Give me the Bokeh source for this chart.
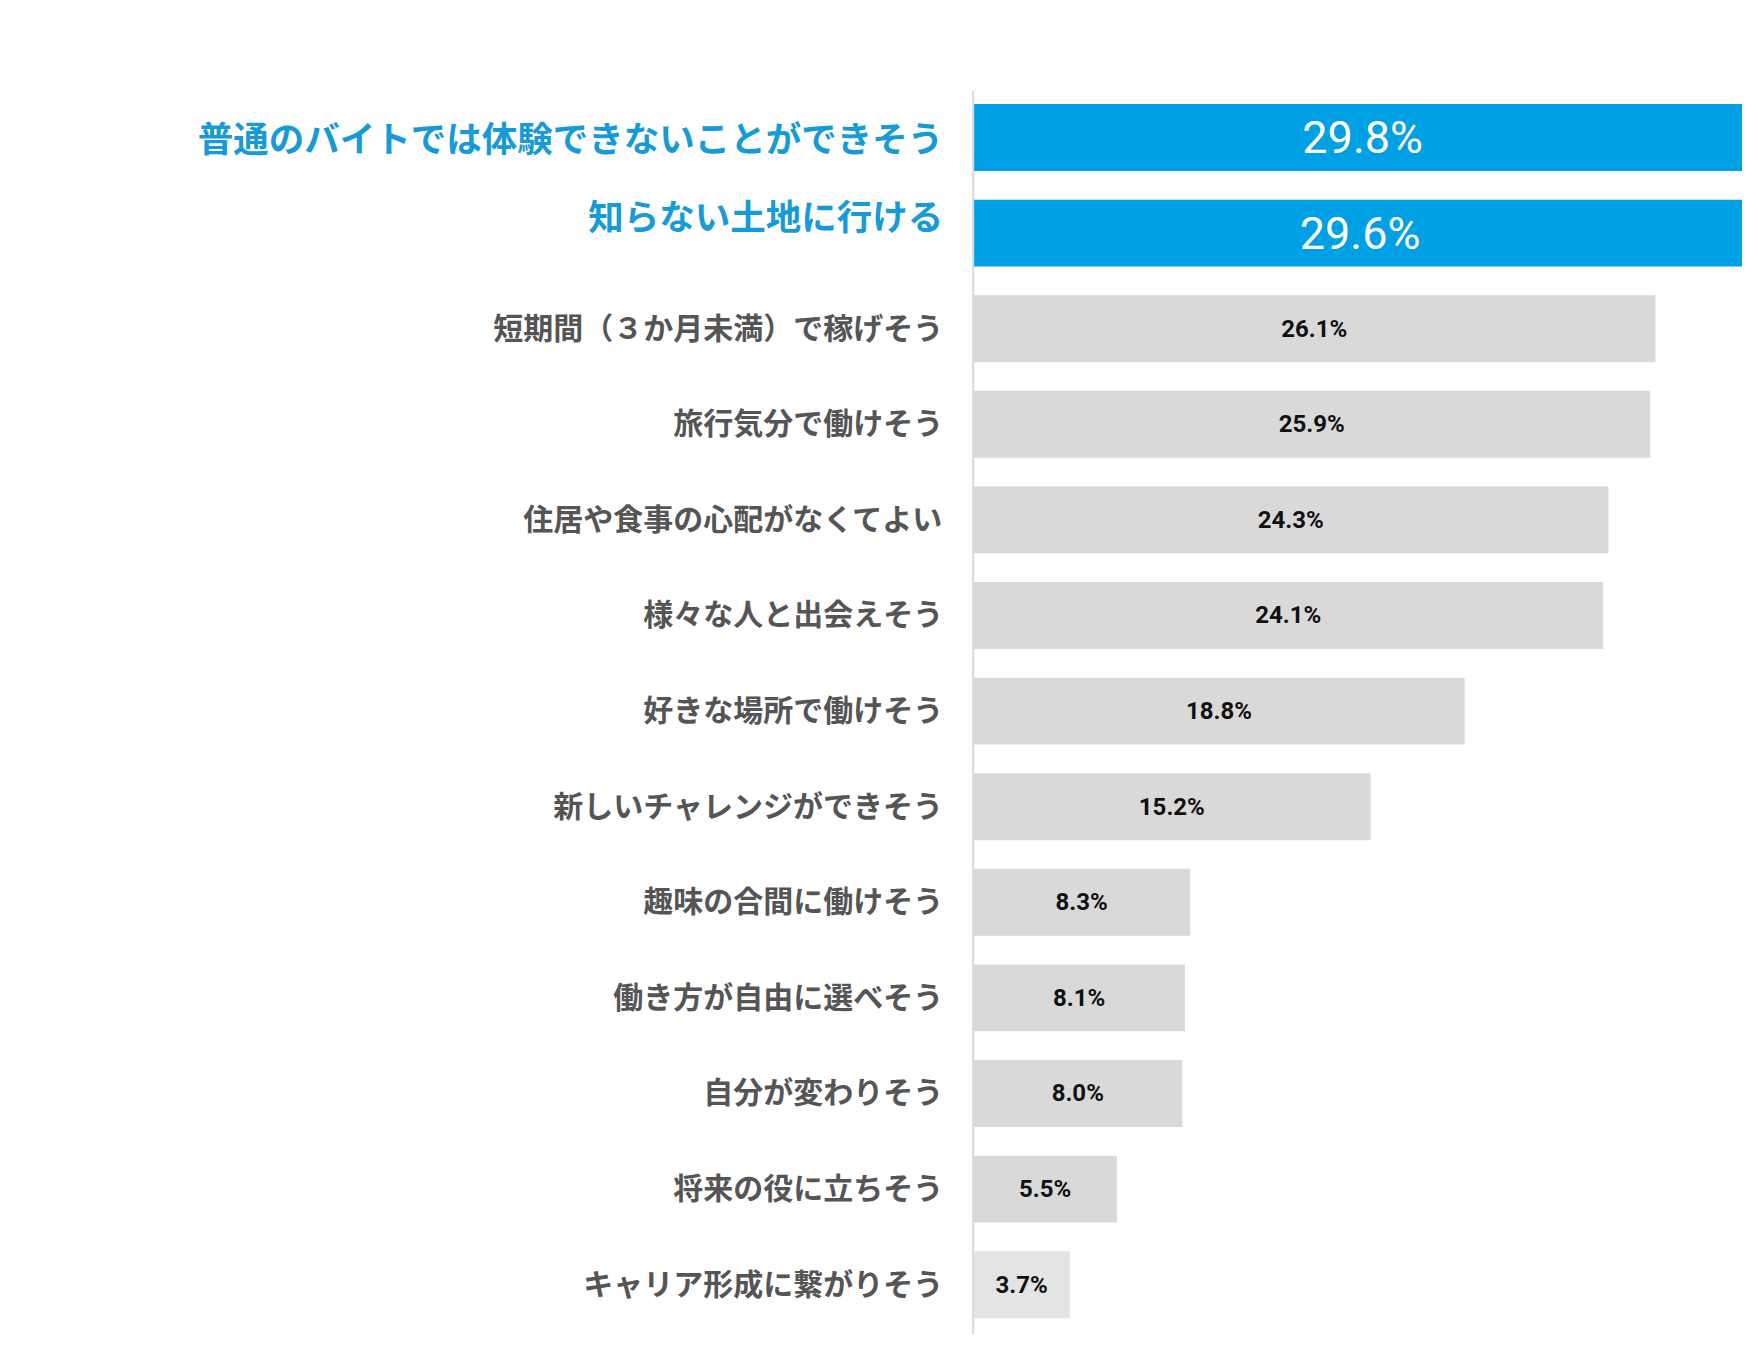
from bokeh.plotting import figure
from bokeh.models import ColumnDataSource, Range1d
from bokeh.core.properties import value
from bokeh.embed import file_html
from bokeh.resources import INLINE

categories = [
    "普通のバイトでは体験できないことができそう",
    "知らない土地に行ける",
    "短期間（３か月未満）で稼げそう",
    "旅行気分で働けそう",
    "住居や食事の心配がなくてよい",
    "様々な人と出会えそう",
    "好きな場所で働けそう",
    "新しいチャレンジができそう",
    "趣味の合間に働けそう",
    "働き方が自由に選べそう",
    "自分が変わりそう",
    "将来の役に立ちそう",
    "キャリア形成に繋がりそう",
]
values = [29.8, 29.6, 26.1, 25.9, 24.3, 24.1, 18.8, 15.2, 8.3, 8.1, 8.0, 5.5, 3.7]
n_highlight = 2

BLUE_BAR = "#00a0e4"
BLUE_TEXT = "#169bd7"
GRAY_BAR = "#d9d9d9"
LIGHT_BAR = "#e4e4e4"
GRAY_TEXT = "#555555"

n = len(categories)
ys = list(range(n))
bar_colors = []
for i in range(n):
    if i < n_highlight:
        bar_colors.append(BLUE_BAR)
    elif i == n - 1:
        bar_colors.append(LIGHT_BAR)
    else:
        bar_colors.append(GRAY_BAR)

W, H = 1742, 1334
p = figure(width=W, height=H, output_backend="svg", toolbar_location=None,
           x_range=Range1d(-37.21, 29.43), y_range=Range1d(12.521, -1.433),
           min_border=0, min_border_left=0, min_border_right=0,
           min_border_top=0, min_border_bottom=0)
p.axis.visible = False
p.grid.visible = False
p.outline_line_color = None
p.background_fill_color = "white"
p.border_fill_color = "white"

src = ColumnDataSource(dict(y=ys, v=values, c=bar_colors))

p.hbar(y="y", left=0, right="v", height=0.70, fill_color="c", line_color=None, source=src)

# vertical axis line
p.segment(x0=[0], y0=[-0.49], x1=[0], y1=[12.6], line_color="#d9d9d9", line_width=2)

hi = ColumnDataSource(dict(y=ys[:n_highlight], half=[v / 2 for v in values[:n_highlight]],
                           lbl=[f"{v:.1f}%" for v in values[:n_highlight]],
                           cat=categories[:n_highlight],
                           yo=[-1, -19][:n_highlight]))
lo = ColumnDataSource(dict(y=ys[n_highlight:], half=[v / 2 for v in values[n_highlight:]],
                           lbl=[f"{v:.1f}%" for v in values[n_highlight:]],
                           cat=categories[n_highlight:]))

# category labels
p.text(x=0, y="y", text="cat", source=hi, x_offset=-30, y_offset="yo",
       text_align="right", text_baseline="middle",
       text_font=value("Noto Sans CJK JP"), text_font_style="bold",
       text_font_size="35.5px", text_color=BLUE_TEXT)
p.text(x=0, y="y", text="cat", source=lo, x_offset=-30, y_offset=-3,
       text_align="right", text_baseline="middle",
       text_font=value("Noto Sans CJK JP"), text_font_style="bold",
       text_font_size="30px", text_color=GRAY_TEXT)

# value labels
p.text(x="half", y="y", text="lbl", source=hi,
       text_align="center", text_baseline="middle",
       text_font=value("Roboto"), text_font_size="45px", text_color="white")
p.text(x="half", y="y", text="lbl", source=lo,
       text_align="center", text_baseline="middle",
       text_font=value("Roboto"), text_font_style="bold",
       text_font_size="24px", text_color="#111111")

open("out.html", "w").write(file_html(p, INLINE))
